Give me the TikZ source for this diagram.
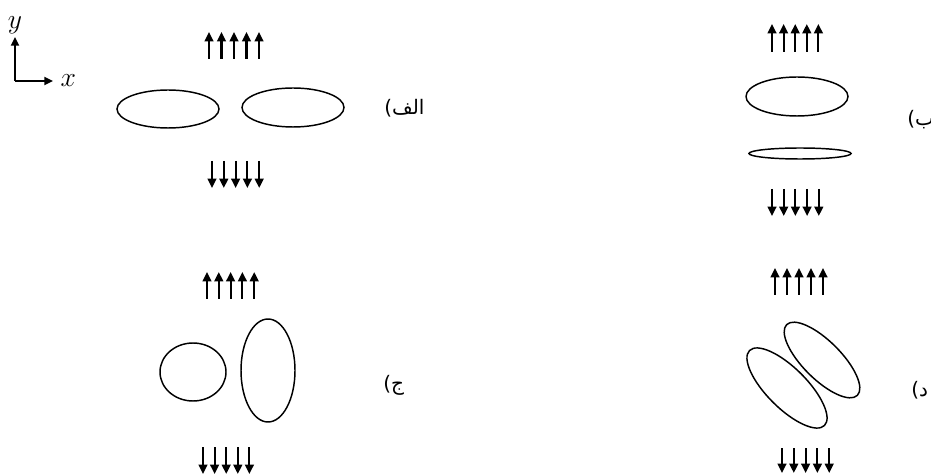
\documentclass[tikz,border=0pt]{standalone}
\usepackage{fontspec}
\newfontfamily\arabicfont[Script=Arabic]{DejaVu Sans}
\newfontfamily\parenfont{DejaVu Sans}
\TeXXeTstate=1
\usetikzlibrary{arrows.meta}
\usetikzlibrary{calc}

\begin{document}
\begin{tikzpicture}[x=0.75pt, y=0.75pt,
    field/.style={line width=1.6pt, -{Triangle[length=7pt,width=6.5pt]}},
    axis/.style={line width=1.4pt, -{Triangle[length=6.5pt,width=6pt]}},
    drop/.style={line width=1.1pt},
    axlbl/.style={inner sep=0pt, font=\fontsize{21}{24}\selectfont},
    lbl/.style={anchor=west, inner sep=0pt, font=\parenfont\fontsize{15}{18}\selectfont}]
    \useasboundingbox (0,0) rectangle (931,475);
    % axes
    \coordinate (O) at (15,394);
    \draw[axis] (O) -- (15,438) node[above=2pt, axlbl] {$y$};
    \draw[axis] (O) -- (53,394) node[right=5pt, axlbl] {$x$};

    % field arrows
    \coordinate (Aup) at (209,416);
    \coordinate (Adn) at (212,314);
    \coordinate (Bup) at (772,423);
    \coordinate (Bdn) at (772,286);
    \coordinate (Cup) at (207,176);
    \coordinate (Cdn) at (203,28);
    \coordinate (Dup) at (775,180);
    \coordinate (Ddn) at (782,27);
    \foreach \i in {0,...,4} {
        \draw[field] ($(Aup)+(12.5*\i,0)$) -- ++(0,27);
        \draw[field] ($(Adn)+(11.8*\i,0)$) -- ++(0,-27);
        \draw[field] ($(Bup)+(11.6*\i,0)$) -- ++(0,28);
        \draw[field] ($(Bdn)+(11.7*\i,0)$) -- ++(0,-27);
        \draw[field] ($(Cup)+(11.8*\i,0)$) -- ++(0,27);
        \draw[field] ($(Cdn)+(11.6*\i,0)$) -- ++(0,-27);
        \draw[field] ($(Dup)+(12*\i,0)$) -- ++(0,27);
        \draw[field] ($(Ddn)+(11.8*\i,0)$) -- ++(0,-25);
    }

    % drops
    \draw[drop] (168,366) ellipse [x radius=51, y radius=19];
    \draw[drop] (293,367.5) ellipse [x radius=51, y radius=19.5];
    \draw[drop] (797,378.5) ellipse [x radius=51, y radius=19.5];
    \draw[drop] (800,321.5) ellipse [x radius=51, y radius=5.5];
    \draw[drop] (193,103) ellipse [x radius=33, y radius=29];
    \draw[drop] (268,104.5) ellipse [x radius=27, y radius=51.5];
    \draw[drop, rotate around={-45:(787,87)}] (787,87) ellipse [x radius=53, y radius=20];
    \draw[drop, rotate around={-45:(822,115)}] (822,115) ellipse [x radius=50, y radius=19];

    % labels
    \node[lbl] (la) at (384,367) {(\arabicfont\beginR الف\endR};
    \node[lbl] (lb) at (907,355) {(\arabicfont\beginR ب\endR};
    \node[lbl] (lc) at (383,90) {(\arabicfont\beginR ج\endR};
    \node[lbl] (ld) at (911,85) {(\arabicfont\beginR د\endR};
\end{tikzpicture}
\end{document}
